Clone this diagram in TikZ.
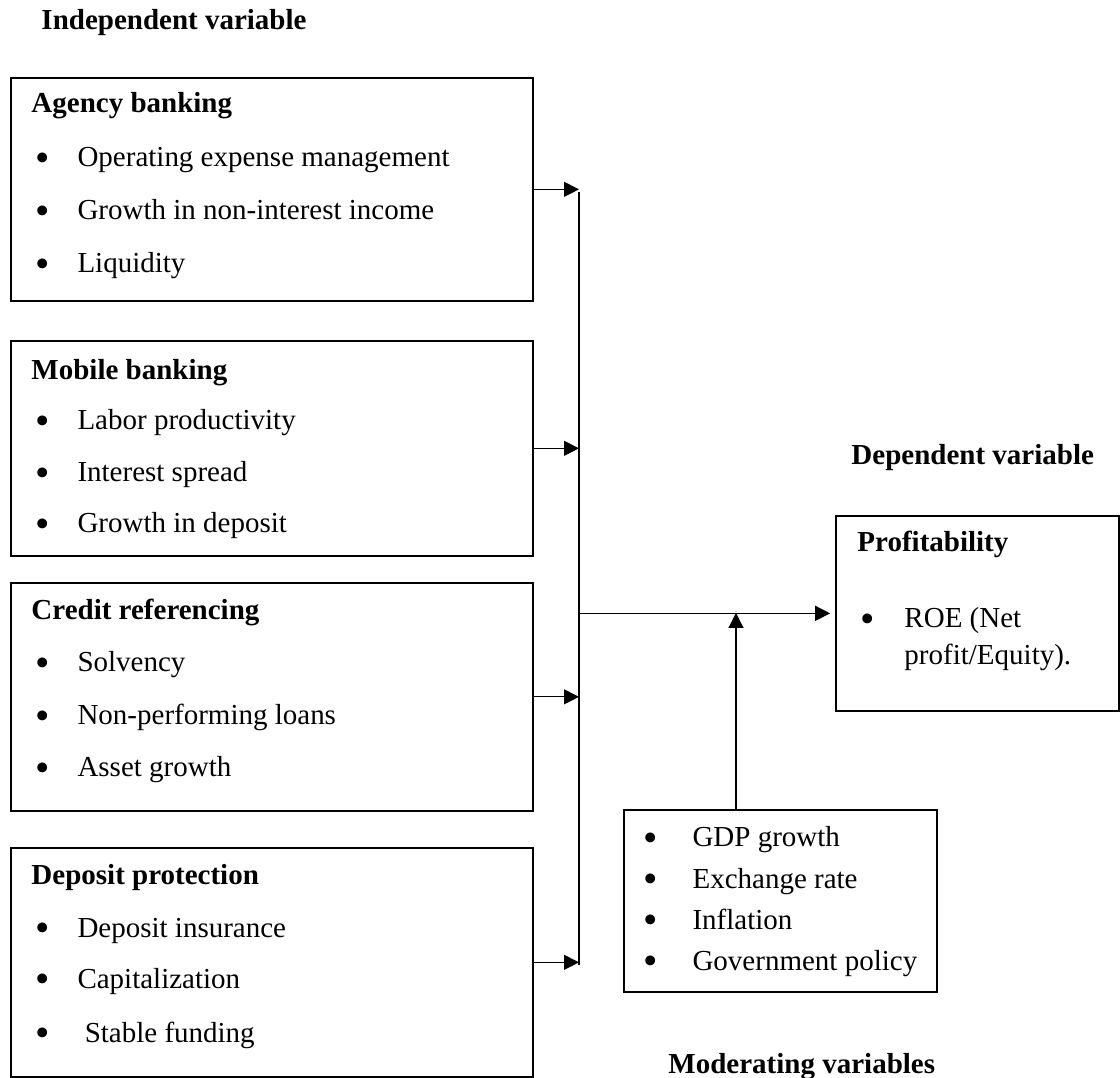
\documentclass[tikz,border=0pt]{standalone}
\usepackage{fontspec}
\setmainfont{Liberation Serif}
\usepackage{tikz}
\usetikzlibrary{arrows.meta}
\usetikzlibrary{positioning}
\newcommand{\pxs}{0.4138pt}
\newcommand{\itm}[2][17.4pt]{\makebox[#1][l]{\raisebox{-1.8pt}{\fontsize{17}{17}\selectfont\textbullet}}#2}
\tikzset{>=latex}
\tikzstyle{box} = [draw, line width=0.7pt, anchor=north west, inner sep=0]
\tikzstyle{txt} = [draw=none, anchor=base west, inner sep=0, font=\fontsize{12}{14}\selectfont]
\tikzstyle{head} = [txt, font=\fontsize{12}{14}\selectfont\bfseries]
\tikzstyle{wire} = [-, line width=0.5pt]
\tikzstyle{arr} = [-{Triangle[length=6.2pt, width=6.2pt]}, line width=0.5pt]

\begin{document}
\begin{tikzpicture}[x=\pxs, y=-\pxs]
\useasboundingbox (0,0) rectangle (1120,1078);
% group labels
\node [head] (indep) at (41, 30) {Independent variable};
\node [head] (dep) at (851, 465) {Dependent variable};
\node [head] (moderlab) at (668, 1073) {Moderating variables};

% independent variable boxes
\node [box, minimum width=522*\pxs, minimum height=223*\pxs] (agency) at (10, 77) {};
\node [head] (agencyT) at (31, 113) {Agency banking};
\node [txt] (A1) at (35, 167) {\itm{Operating expense management}};
\node [txt] (A2) at (35, 220) {\itm{Growth in non-interest income}};
\node [txt] (A3) at (35, 273) {\itm{Liquidity}};

\node [box, minimum width=522*\pxs, minimum height=215*\pxs] (mobile) at (10, 340) {};
\node [head] (mobileT) at (31, 380) {Mobile banking};
\node [txt] (M1) at (35, 430) {\itm{Labor productivity}};
\node [txt] (M2) at (35, 482) {\itm{Interest spread}};
\node [txt] (M3) at (35, 533) {\itm{Growth in deposit}};

\node [box, minimum width=522*\pxs, minimum height=228*\pxs] (credit) at (10, 582) {};
\node [head] (creditT) at (31, 620) {Credit referencing};
\node [txt] (C1) at (35, 672) {\itm{Solvency}};
\node [txt] (C2) at (35, 725) {\itm{Non-performing loans}};
\node [txt] (C3) at (35, 777) {\itm{Asset growth}};

\node [box, minimum width=522*\pxs, minimum height=229*\pxs] (deposit) at (10, 847) {};
\node [head] (depositT) at (31, 885) {Deposit protection};
\node [txt] (D1) at (35, 937) {\itm{Deposit insurance}};
\node [txt] (D2) at (35, 988) {\itm{Capitalization}};
\node [txt] (D3) at (35, 1042) {\itm{\ Stable funding}};

% dependent variable
\node [box, minimum width=283*\pxs, minimum height=195*\pxs] (profit) at (835, 515) {};
\node [head] (profitT) at (857, 552) {Profitability};
\node [txt] (P1) at (860, 628) {\itm[18.2pt]{ROE (Net}};
\node [txt] (P2) at (904, 665) {profit/Equity).};

% moderating variables
\node [box, minimum width=313*\pxs, minimum height=182*\pxs] (moder) at (623, 809) {};
\node [txt] (G1) at (643, 847) {\itm[20.3pt]{GDP growth}};
\node [txt] (G2) at (643, 888) {\itm[20.3pt]{Exchange rate}};
\node [txt] (G3) at (643, 929) {\itm[20.3pt]{Inflation}};
\node [txt] (G4) at (643, 970) {\itm[20.3pt]{Government policy}};

% connectors
\coordinate (bustop) at (579, 192);
\coordinate (busbot) at (579, 965);
\coordinate (joint) at (736, 613);
\draw [wire] (bustop) -- (busbot);
\draw [arr] (agency.east) -- (agency.east -| bustop);
\draw [arr] (mobile.east) -- (mobile.east -| bustop);
\draw [arr] (credit.east) -- (credit.east -| bustop);
\draw [arr] (deposit.east) -- (deposit.east -| bustop);
\draw [arr, shorten >=2pt] (profit.west -| bustop) -- (profit.west);
\draw [arr] (moder.north -| joint) -- (joint);
\end{tikzpicture}
\end{document}
